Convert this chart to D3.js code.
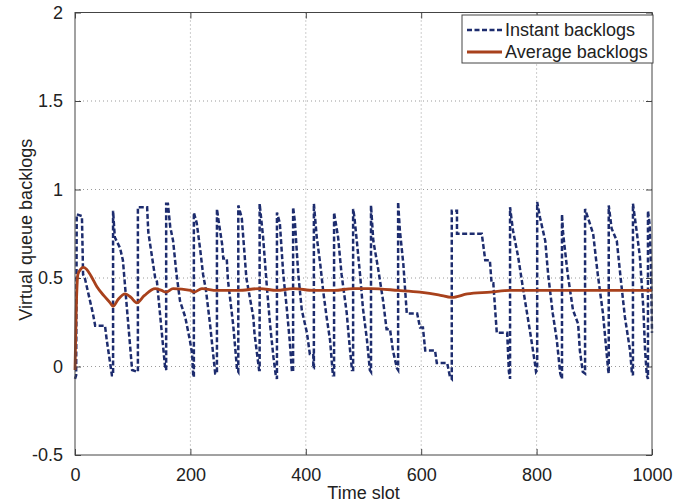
<!DOCTYPE html>
<html>
<head>
<meta charset="utf-8">
<script src="https://cdn.jsdelivr.net/npm/d3@7/dist/d3.min.js"></script>
<style>
    body { margin: 0; background: #fff; }
    text { font-family: "Liberation Sans", Arial, Helvetica, sans-serif; fill: #222; }
</style>
</head>
<body>
<svg id="chart" width="686" height="503"></svg>
<script>
// Time slot / value pairs
const instant_backlogs = [
    [0, -0.07], [2, -0.05], [3, 0.86], [12, 0.85], [14, 0.52], [17, 0.5], [31, 0.3], [35, 0.23], [52, 0.23], [55, 0.15], [64, -0.05],
    [66, -0.05], [66, 0.88], [69, 0.73], [78, 0.67], [83, 0.6], [99, -0.02], [108, -0.03],
    [109, -0.03], [109, 0.9], [125, 0.9], [127, 0.76], [139, 0.5], [142, 0.48], [156, 0.0], [158, -0.02],
    [158, 0.92], [161, 0.92], [165, 0.79], [170, 0.71], [176, 0.52], [182, 0.37], [191, 0.28], [199, 0.15], [203, 0.07], [205, -0.06],
    [206, -0.06], [206, 0.87], [211, 0.81], [217, 0.66], [222, 0.52], [227, 0.43], [234, 0.24], [243, -0.04],
    [246, -0.04], [246, 0.89], [249, 0.82], [255, 0.69], [257, 0.61], [263, 0.61], [265, 0.49], [274, 0.24], [281, -0.02],
    [283, -0.03], [283, 0.91], [289, 0.84], [293, 0.67], [297, 0.5], [309, 0.28], [311, 0.19], [319, -0.02],
    [320, -0.02], [320, 0.92], [326, 0.73], [333, 0.43], [338, 0.24], [344, 0.05], [348, -0.05],
    [350, -0.07], [350, 0.87], [355, 0.81], [361, 0.52], [367, 0.33], [372, 0.15], [376, -0.03],
    [378, -0.03], [378, 0.9], [381, 0.82], [387, 0.52], [393, 0.32], [402, 0.19], [407, 0.07], [413, 0.07], [413, -0.01],
    [414, -0.01], [414, 0.92], [419, 0.73], [425, 0.58], [430, 0.43], [436, 0.28], [442, 0.15], [447, -0.05],
    [449, -0.05], [449, 0.87], [456, 0.73], [462, 0.52], [471, 0.3], [475, 0.15], [480, -0.02],
    [482, -0.02], [482, 0.89], [484, 0.85], [489, 0.69], [494, 0.52], [499, 0.33], [506, 0.15], [511, -0.02],
    [513, -0.03], [513, 0.91], [517, 0.71], [525, 0.56], [534, 0.37], [540, 0.21], [546, 0.21], [551, 0.09], [558, -0.01],
    [560, -0.02], [560, 0.93], [563, 0.77], [569, 0.58], [575, 0.3], [593, 0.3], [598, 0.22], [603, 0.22], [607, 0.09], [624, 0.09], [627, 0.02], [645, 0.02], [650, -0.06],
    [653, -0.07], [653, 0.88], [662, 0.88], [662, 0.75], [705, 0.75], [711, 0.6], [719, 0.6], [722, 0.47], [725, 0.47], [731, 0.19], [749, 0.19], [752, -0.03],
    [754, -0.07], [754, 0.9], [759, 0.77], [768, 0.62], [777, 0.43], [789, 0.19], [797, 0.02], [799, -0.03],
    [801, -0.02], [801, 0.93], [806, 0.84], [815, 0.71], [820, 0.52], [828, 0.3], [835, 0.15], [841, -0.04],
    [844, -0.07], [844, 0.86], [846, 0.75], [854, 0.52], [863, 0.32], [872, 0.24], [875, 0.09], [880, -0.03],
    [884, -0.04], [884, 0.89], [889, 0.84], [898, 0.75], [906, 0.52], [915, 0.3], [921, 0.09], [924, -0.02],
    [925, -0.04], [925, 0.91], [930, 0.78], [939, 0.71], [945, 0.52], [953, 0.28], [962, 0.09], [965, -0.03],
    [967, -0.05], [967, 0.92], [974, 0.75], [979, 0.62], [985, 0.33], [988, 0.09], [991, -0.05],
    [993, -0.07], [993, 0.88], [996, 0.8], [998, 0.6], [1000, 0.19]
]

const average_backlogs = [
    [0, -0.02], [2, 0.3], [5, 0.52], [10, 0.55], [14, 0.56], [20, 0.55], [28, 0.51], [38, 0.45], [50, 0.4], [61, 0.36],
    [66, 0.34], [75, 0.38], [87, 0.41], [97, 0.39], [107, 0.36], [120, 0.4], [139, 0.44], [150, 0.43], [158, 0.42],
    [170, 0.44], [200, 0.43], [206, 0.42], [220, 0.44], [246, 0.43], [283, 0.43], [320, 0.44], [350, 0.43], [378, 0.44],
    [414, 0.43], [449, 0.43], [482, 0.44], [513, 0.44], [560, 0.43], [598, 0.42], [630, 0.405], [653, 0.39],
    [680, 0.41], [720, 0.42], [754, 0.43], [800, 0.43], [900, 0.43], [1000, 0.43]
]

const x_ticks = [0, 200, 400, 600, 800, 1000]
const y_ticks = [-0.5, 0, 0.5, 1, 1.5, 2]
const y_tick_labels = ["-0.5", "0", "0.5", "1", "1.5", "2"]
const legend_labels = ["Instant backlogs", "Average backlogs"]

const colors = { instant: "#1d2c6e", average: "#a8411c" }
const font_size = "18px"

const margin = { top: 12.5, right: 34, bottom: 48, left: 75 }
const width = 686 - margin.left - margin.right
const height = 503 - margin.top - margin.bottom

const svg = d3.select("#chart")
const g = svg.append("g").attr("transform", `translate(${margin.left},${margin.top})`)

const x = d3.scaleLinear().domain([0, 1000]).range([0, width])
const y = d3.scaleLinear().domain([-0.5, 2]).range([height, 0])

// Dotted grid
g.append("g").selectAll("line")
    .data(x_ticks.slice(1, -1))
    .enter().append("line")
    .attr("x1", d => x(d)).attr("x2", d => x(d))
    .attr("y1", 0).attr("y2", height)
    .attr("stroke", "#9a9a9a").attr("stroke-width", 1).attr("stroke-dasharray", "1,3")

g.append("g").selectAll("line")
    .data(y_ticks.slice(1, -1))
    .enter().append("line")
    .attr("x1", 0).attr("x2", width)
    .attr("y1", d => y(d)).attr("y2", d => y(d))
    .attr("stroke", "#9a9a9a").attr("stroke-width", 1).attr("stroke-dasharray", "1,3")

// Axes with inward ticks, MATLAB style
const style_axis = sel => {
    sel.select(".domain").remove()
    sel.selectAll(".tick line").attr("stroke", "#444")
    sel.selectAll(".tick text").style("font-size", font_size).attr("fill", "#222")
}

g.append("g")
    .attr("transform", `translate(0,${height})`)
    .call(d3.axisBottom(x).tickValues(x_ticks).tickSizeInner(-6).tickSizeOuter(0).tickPadding(13).tickFormat(d3.format("d")))
    .call(style_axis)

g.append("g")
    .call(d3.axisTop(x).tickValues(x_ticks).tickSizeInner(-6).tickSizeOuter(0).tickFormat(""))
    .call(style_axis)

g.append("g")
    .call(d3.axisLeft(y).tickValues(y_ticks).tickSizeInner(-6).tickSizeOuter(0).tickPadding(12)
        .tickFormat((d, i) => y_tick_labels[i]))
    .call(style_axis)

g.append("g")
    .attr("transform", `translate(${width},0)`)
    .call(d3.axisRight(y).tickValues(y_ticks).tickSizeInner(-6).tickSizeOuter(0).tickFormat(""))
    .call(style_axis)

// Series
const line = d3.line().x(d => x(d[0])).y(d => y(d[1]))

g.append("path")
    .datum(instant_backlogs)
    .attr("d", line)
    .attr("fill", "none")
    .attr("stroke", colors.instant)
    .attr("stroke-width", 2.5)
    .attr("stroke-dasharray", "5,2.5")

g.append("path")
    .datum(average_backlogs)
    .attr("d", line.curve(d3.curveMonotoneX))
    .attr("fill", "none")
    .attr("stroke", colors.average)
    .attr("stroke-width", 2.8)

// Plot frame
g.append("rect")
    .attr("width", width).attr("height", height)
    .attr("fill", "none").attr("stroke", "#444").attr("stroke-width", 1)

// Axis labels
svg.append("text")
    .attr("x", margin.left + width / 2).attr("y", 499)
    .attr("text-anchor", "middle")
    .style("font-size", font_size)
    .text("Time slot")

svg.append("text")
    .attr("transform", `translate(32,${margin.top + height / 2 - 4}) rotate(-90)`)
    .attr("text-anchor", "middle")
    .style("font-size", font_size)
    .text("Virtual queue backlogs")

// Legend
const legend = svg.append("g").attr("transform", "translate(462,15)")
legend.append("rect")
    .attr("width", 191).attr("height", 48)
    .attr("fill", "#fff").attr("stroke", "#444").attr("stroke-width", 1)

const rows = legend.selectAll("g")
    .data(legend_labels)
    .enter().append("g")
    .attr("transform", (d, i) => `translate(0,${15 + i * 22})`)

rows.append("line")
    .attr("x1", 5).attr("x2", 40)
    .attr("stroke", (d, i) => i === 0 ? colors.instant : colors.average)
    .attr("stroke-width", (d, i) => i === 0 ? 2.5 : 2.8)
    .attr("stroke-dasharray", (d, i) => i === 0 ? "5,2.5" : null)

rows.append("text")
    .attr("x", 43).attr("dy", "0.35em")
    .style("font-size", font_size)
    .text(d => d)
</script>
</body>
</html>
